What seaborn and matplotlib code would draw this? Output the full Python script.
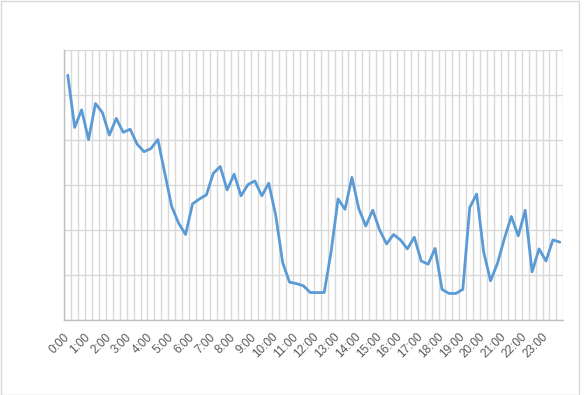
import numpy as np
import pandas as pd
import seaborn as sns
import matplotlib.pyplot as plt
from matplotlib.patches import Rectangle

sns.set_style("white")
plt.rcParams['font.family'] = ['Liberation Sans', 'DejaVu Sans']

# values every 20 minutes, 72 slots over the day
values = [54.4, 42.8, 46.7, 40.1, 48.1, 46.1, 41.1, 44.8, 41.7, 42.4, 39.1, 37.4,
          38.1, 40.1, 32.6, 25.2, 21.5, 19.0, 25.8, 26.9, 27.8, 32.6, 34.1, 28.9,
          32.4, 27.6, 30.1, 30.9, 27.6, 30.4, 23.3, 12.8, 8.4, 8.1, 7.6, 6.1,
          6.1, 6.1, 15.2, 26.9, 24.6, 31.7, 24.7, 20.9, 24.4, 20.0, 16.9, 19.0,
          17.8, 15.8, 18.4, 13.1, 12.4, 15.9, 6.8, 5.9, 5.9, 6.8, 25.0, 28.0,
          15.2, 8.7, 12.6, 18.1, 23.0, 18.7, 24.4, 10.7, 15.8, 13.1, 17.8, 17.3]
hour_labels = [f"{h}:00" for h in range(24)]

df = pd.DataFrame({"slot": np.arange(len(values)), "value": values})

fig = plt.figure(figsize=(5.84, 3.95), dpi=100)
ax = fig.add_axes([64.3 / 584, 1 - 320 / 395, (563.3 - 64.3) / 584, 270 / 395])

# chart area border
fig.patches.append(Rectangle((0.5 / 584, 0.5 / 395), 578 / 584, 393.5 / 395,
                             transform=fig.transFigure, fill=False,
                             edgecolor="#d9d9d9", linewidth=1))

sns.lineplot(data=df, x="slot", y="value", ax=ax, color="#5b9bd5", linewidth=2)

ax.set_xlim(-0.5, len(values) - 0.5)
ax.set_ylim(0, 60)
ax.set_yticks(np.arange(0, 61, 10))
ax.set_yticklabels([])
ax.set_xticks(np.arange(0, 72, 3))
ax.set_xticklabels(hour_labels, rotation=45, ha="right", va="center",
                   rotation_mode="anchor", fontsize=8.5, color="#595959")
ax.set_xticks(np.arange(-0.5, 72, 1), minor=True)
ax.tick_params(axis="both", which="both", length=0)
ax.tick_params(axis="x", pad=11)
ax.grid(which="minor", axis="x", color="#d9d9d9", linewidth=1)
ax.grid(which="major", axis="y", color="#d9d9d9", linewidth=1)
ax.set_axisbelow(True)
ax.set_xlabel("")
ax.set_ylabel("")
for side in ["top", "right"]:
    ax.spines[side].set_visible(False)
for side in ["left", "bottom"]:
    ax.spines[side].set_color("#bfbfbf")
    ax.spines[side].set_linewidth(1)

fig.savefig("out.png", dpi=100)
